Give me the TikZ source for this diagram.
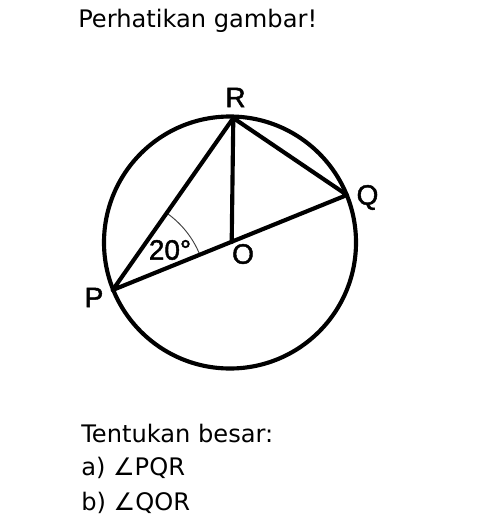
\documentclass[tikz,border=0pt]{standalone}
\usepackage{fontspec}
\usetikzlibrary{calc}
\setmainfont{DejaVu Sans}
\newfontfamily\lblfont[FakeBold=1.6]{Liberation Sans}
\begin{document}
\begin{tikzpicture}[x=0.75pt,y=-0.75pt,
  geo/.style={line width=3.1pt, line join=round, line cap=round},
  vlabel/.style={font=\lblfont\fontsize{21pt}{24pt}\selectfont, inner sep=0pt},
  txt/.style={font=\fontsize{18.1pt}{22pt}\selectfont, anchor=base west, inner sep=0pt}]
\useasboundingbox (0,0) rectangle (492,532);
% points
\coordinate (C) at (230,242.5);
\coordinate (P) at (112.7,290);
\coordinate (Q) at (347,195);
\coordinate (R) at (233.3,118);
\coordinate (O) at (231.7,242);
% angle arc at P
\draw[gray!50!black, line width=0.7pt] ($(P)+(-22:94)$) arc[start angle=-22, end angle=-55, radius=94];
% circle and lines
\draw[geo] (C) circle[radius=126];
\draw[geo] (P) -- (R) -- (Q) -- (P);
\draw[geo] (R) -- (O);
% labels
\node[vlabel] (lR) at (235.5,97.5) {R};
\node[vlabel] (lQ) at (367.5,197.5) {Q};
\node[vlabel] (lO) at (243,254) {O};
\node[vlabel] (lP) at (94,297.5) {P};
\node[vlabel] (la) at (170,250) {20°};
% texts
\node[txt] (t1) at (78,27) {Perhatikan gambar!};
\node[txt] (t2) at (81,442) {Tentukan besar:};
\node[txt] (t3) at (81,475) {a) ∠PQR};
\node[txt] (t4) at (81,510) {b) ∠QOR};
\end{tikzpicture}
\end{document}
